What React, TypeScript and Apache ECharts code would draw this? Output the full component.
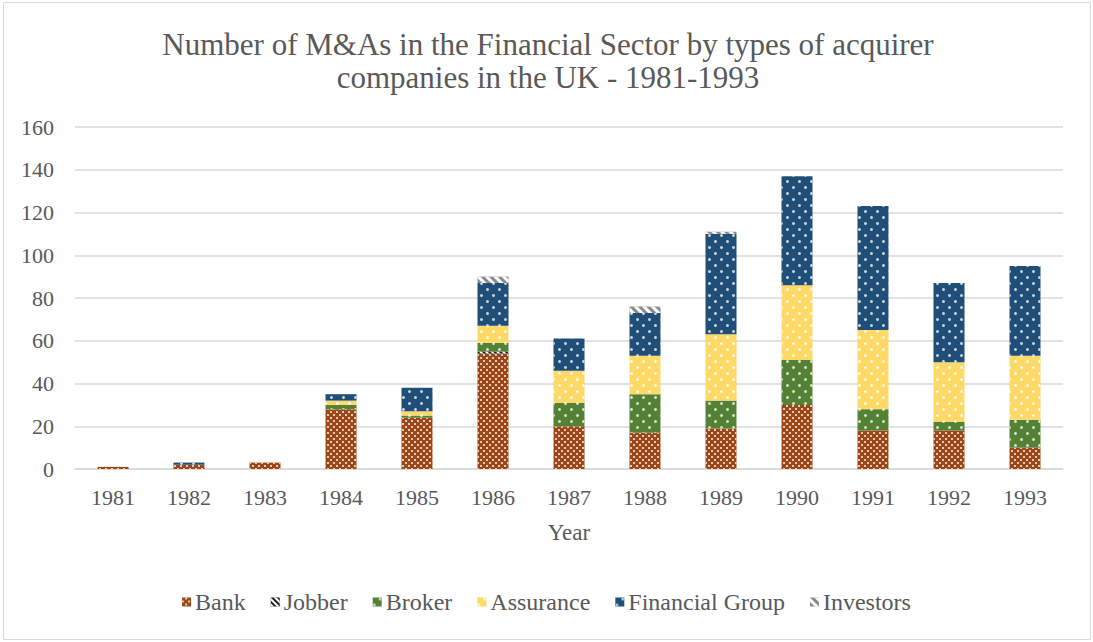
import React, { useEffect, useRef } from "react";
import * as echarts from "echarts";

const years = ["1981","1982","1983","1984","1985","1986","1987","1988","1989","1990","1991","1992","1993"];
const bank =       [1, 2, 3, 28, 24, 54, 20, 17, 19, 30, 18, 18, 10];
const jobber =     [0, 0, 0, 0, 0, 1, 0, 0, 0, 0, 0, 0, 0];
const broker =     [0, 0, 0, 2, 1, 4, 11, 18, 13, 21, 10, 4, 13];
const assurance =  [0, 0, 0, 2, 2, 8, 15, 18, 31, 35, 37, 28, 30];
const finGroup =   [0, 1, 0, 3, 11, 20, 15, 20, 47, 51, 58, 37, 42];
const investors =  [0, 0, 0, 0, 0, 3, 0, 3, 1, 0, 0, 0, 0];
const yTicks = [0, 20, 40, 60, 80, 100, 120, 140, 160];
const titleText = "Number of M&As in the Financial Sector by types of acquirer\ncompanies in the UK - 1981-1993";

const FONT = "'Liberation Serif', 'Times New Roman', serif";
const TXT = "#595959";

const dots = (c: string) => ({
  symbol: "circle",
  symbolSize: 1,
  color: c,
  dashArrayX: [[2.6, 8.4], [0, 5.5, 2.6, 2.9]],
  dashArrayY: [2.6, 3],
});

export default function App() {
  const ref = useRef<HTMLDivElement>(null);
  useEffect(() => {
    if (!ref.current) return;
    const chart = echarts.init(ref.current, null, { renderer: "svg" });
    const mk = (name: string, data: number[], color: string, decal: any) => ({
      name,
      type: "bar",
      stack: "total",
      barWidth: 31,
      data,
      itemStyle: { color, decal },
    });
    chart.setOption({
      animation: false,
      backgroundColor: "#ffffff",
      graphic: [
        { type: "rect", shape: { x: 3.5, y: 2.5, width: 1087, height: 637 }, style: { fill: "none", stroke: "#d9d9d9", lineWidth: 1 }, silent: true },
        {
          type: "text",
          x: 548,
          y: 61,
          silent: true,
          style: {
            text: titleText,
            align: "center",
            verticalAlign: "middle",
            fontFamily: FONT,
            fontSize: 31,
            lineHeight: 33,
            fill: TXT,
          },
        },
      ],
      legend: {
        bottom: 23,
        left: "center",
        icon: "rect",
        itemWidth: 9,
        itemHeight: 9,
        itemGap: 25,
        textStyle: { fontFamily: FONT, fontSize: 24, color: TXT, padding: [0, 0, 0, -1] },
        data: ["Bank", "Jobber", "Broker", "Assurance", "Financial Group", "Investors"],
      },
      grid: { left: 75, right: 30, top: 127, bottom: 173 },
      xAxis: {
        type: "category",
        data: years,
        name: "Year",
        nameLocation: "middle",
        nameGap: 52,
        nameTextStyle: { fontFamily: FONT, fontSize: 23, color: TXT },
        axisLine: { lineStyle: { color: "#d9d9d9", width: 1.5 } },
        axisTick: { show: false },
        axisLabel: { fontFamily: FONT, fontSize: 22, color: TXT, margin: 17 },
      },
      yAxis: {
        type: "value",
        min: yTicks[0],
        max: yTicks[yTicks.length - 1],
        interval: 20,
        axisLine: { show: false },
        axisTick: { show: false },
        axisLabel: { fontFamily: FONT, fontSize: 22, color: TXT, margin: 21 },
        splitLine: { lineStyle: { color: "#d9d9d9", width: 1.5 } },
      },
      series: [
        mk("Bank", bank, "#9a4819", {
          symbol: "rect",
          symbolSize: 1,
          color: "rgba(255,230,215,0.8)",
          dashArrayX: [[2, 4], [0, 3, 2, 1]],
          dashArrayY: [2, 1],
        }),
        mk("Jobber", jobber, "#1e1e1e", {
          symbol: "rect",
          symbolSize: 1,
          color: "#ffffff",
          dashArrayX: [1, 0],
          dashArrayY: [1.5, 2],
          rotation: Math.PI / 4,
        }),
        mk("Broker", broker, "#548235", dots("rgba(255,255,255,0.75)")),
        mk("Assurance", assurance, "#ffd966", dots("rgba(255,255,255,0.8)")),
        mk("Financial Group", finGroup, "#1f4e79", dots("rgba(255,255,255,0.75)")),
        mk("Investors", investors, "#8a8a8a", {
          symbol: "rect",
          symbolSize: 1,
          color: "#ffffff",
          dashArrayX: [1, 0],
          dashArrayY: [3, 3],
          rotation: Math.PI / 4,
        }),
      ],
    });
    return () => chart.dispose();
  }, []);
  return <div ref={ref} style={{ position: "absolute", left: 0, top: 0, width: 1093, height: 642 }} />;
}
